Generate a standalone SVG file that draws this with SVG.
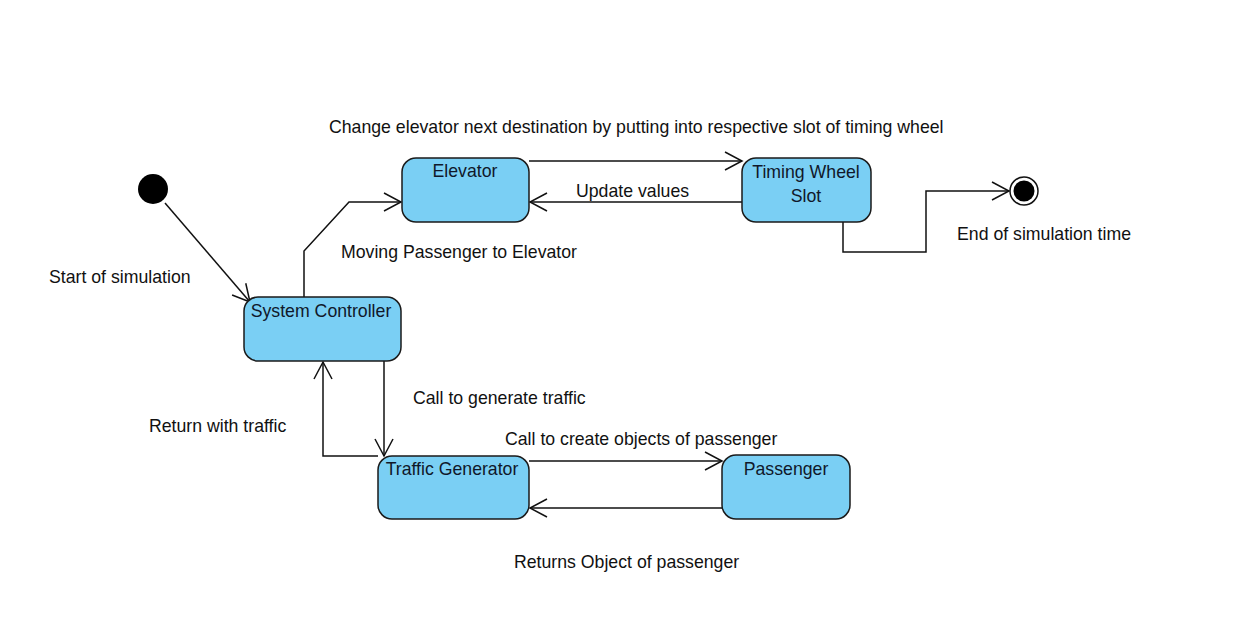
<svg xmlns="http://www.w3.org/2000/svg" width="1235" height="634" viewBox="0 0 1235 634">
<style>
.node{fill:#7acff4;stroke:#1a1a1a;stroke-width:1.5}
.lbl{font-family:"Liberation Sans",Arial,sans-serif;font-size:17.7px;fill:#111}
.nl{font-family:"Liberation Sans",Arial,sans-serif;font-size:17.7px;fill:#10182a;text-anchor:middle}
.edge{fill:none;stroke:#111;stroke-width:1.5}
</style>
<defs>
<marker id="arr" markerWidth="22" markerHeight="22" refX="18" refY="11" orient="auto" markerUnits="userSpaceOnUse">
<path d="M1,2 L18,11 L1,20" fill="none" stroke="#111" stroke-width="1.5"/>
</marker>
</defs>
<rect width="1235" height="634" fill="#fff"/>
<g id="connectors">
<path class="edge" d="M165,203 L250,302" marker-end="url(#arr)"/>
<path class="edge" d="M304,297 L304,251 L349,202 L401,202" marker-end="url(#arr)"/>
<path class="edge" d="M529,161 L742,161" marker-end="url(#arr)"/>
<path class="edge" d="M742,202 L530,202" marker-end="url(#arr)"/>
<path class="edge" d="M843,222 L843,252 L926,252 L926,191 L1009,191" marker-end="url(#arr)"/>
<path class="edge" d="M384,361 L384,456" marker-end="url(#arr)"/>
<path class="edge" d="M378,456 L323,456 L323,362" marker-end="url(#arr)"/>
<path class="edge" d="M529,461 L722,461" marker-end="url(#arr)"/>
<path class="edge" d="M722,508 L530,508" marker-end="url(#arr)"/>
</g>
<g id="initial"><circle cx="153" cy="189" r="15" fill="#000"/></g>
<g id="final"><circle cx="1024" cy="191" r="14" fill="#fff" stroke="#111" stroke-width="1.5"/><circle cx="1024" cy="191" r="10.5" fill="#000"/></g>
<g id="elevator"><rect class="node" x="402" y="158" width="127" height="64" rx="14"/><text class="nl" x="465" y="177">Elevator</text></g>
<g id="timing"><rect class="node" x="742" y="158" width="129" height="64" rx="14"/><text class="nl" x="806" y="178">Timing Wheel</text><text class="nl" x="806" y="202">Slot</text></g>
<g id="system"><rect class="node" x="244" y="297" width="157" height="64" rx="14"/><text class="nl" x="321" y="317">System Controller</text></g>
<g id="traffic"><rect class="node" x="378" y="456" width="151" height="63" rx="14"/><text class="nl" x="452" y="475">Traffic Generator</text></g>
<g id="passenger"><rect class="node" x="722" y="455" width="128" height="64" rx="14"/><text class="nl" x="786" y="475">Passenger</text></g>
<g id="labels">
<text class="lbl" x="329" y="133">Change elevator next destination by putting into respective slot of timing wheel</text>
<text class="lbl" x="576" y="197">Update values</text>
<text class="lbl" x="341" y="258">Moving Passenger to Elevator</text>
<text class="lbl" x="49" y="283">Start of simulation</text>
<text class="lbl" x="957" y="240">End of simulation time</text>
<text class="lbl" x="413" y="404">Call to generate traffic</text>
<text class="lbl" x="149" y="432">Return with traffic</text>
<text class="lbl" x="505" y="445">Call to create objects of passenger</text>
<text class="lbl" x="514" y="568">Returns Object of passenger</text>
</g>
</svg>
